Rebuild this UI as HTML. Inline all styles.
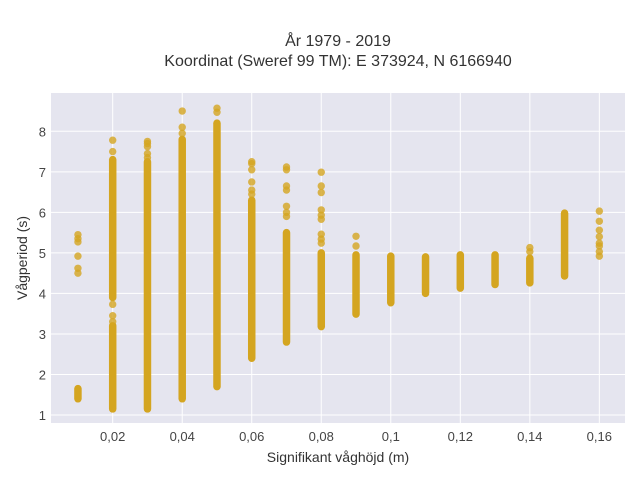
<!DOCTYPE html>
<html><head><meta charset="utf-8"><style>
html,body{margin:0;padding:0;background:#fff;}
svg{display:block;font-family:"Liberation Sans",sans-serif;}
</style></head><body>
<svg id="chart" width="640" height="480">
<rect x="51" y="93" width="574" height="330" fill="#e5e5ef"/>
<g id="grid"></g><g id="marks"></g><g id="ticks"></g>
<text x="338" y="46" text-anchor="middle" font-size="16" fill="#333">År 1979 - 2019</text>
<text x="338" y="66" text-anchor="middle" font-size="16" fill="#333">Koordinat (Sweref 99 TM): E 373924, N 6166940</text>
<text x="338" y="462" text-anchor="middle" font-size="14" fill="#333">Signifikant våghöjd (m)</text>
<text transform="translate(27,258) rotate(-90)" text-anchor="middle" font-size="14" fill="#333">Vågperiod (s)</text>
</svg>
<script>
const xCats = [0.01,0.02,0.02,0.03,0.04,0.05,0.06,0.07,0.08,0.09,0.1,0.11,0.12,0.13,0.14,0.15];
const segMin = [1.4,1.15,3.9,1.15,1.4,1.7,2.4,2.8,3.18,3.49,3.77,4.0,4.13,4.22,4.26,4.43];
const segMax = [1.65,3.2,7.3,7.25,7.8,8.2,6.3,5.5,5.0,4.95,4.92,4.9,4.95,4.95,4.87,5.98];
const outX = [0.01,0.01,0.01,0.01,0.01,0.01,0.02,0.02,0.02,0.02,0.02,0.03,0.03,0.03,0.03,0.03,0.04,0.04,0.04,0.05,0.05,0.06,0.06,0.06,0.06,0.06,0.06,0.07,0.07,0.07,0.07,0.07,0.07,0.07,0.08,0.08,0.08,0.08,0.08,0.08,0.08,0.08,0.08,0.09,0.09,0.14,0.14,0.16,0.16,0.16,0.16,0.16,0.16,0.16,0.16];
const outY = [4.5,4.62,4.92,5.27,5.35,5.45,3.3,3.45,3.73,7.5,7.78,7.35,7.45,7.62,7.7,7.75,7.95,8.1,8.5,8.47,8.57,6.45,6.55,6.75,7.05,7.2,7.25,5.9,6.0,6.15,6.55,6.65,7.05,7.12,6.99,6.65,6.49,6.06,5.93,5.83,5.46,5.34,5.24,5.17,5.41,5.03,5.13,6.03,5.78,5.56,5.4,5.24,5.17,5.03,4.92];
const xTicks = [0.02,0.04,0.06,0.08,0.1,0.12,0.14,0.16];
const xTickLabels = ["0,02","0,04","0,06","0,08","0,1","0,12","0,14","0,16"];
const yTicks = [1,2,3,4,5,6,7,8];
const yTickLabels = ["1","2","3","4","5","6","7","8"];

const NS="http://www.w3.org/2000/svg";
const X = v => 112.7 + (v-0.02)/0.01*34.76;
const Y = v => 415 - (v-1)*40.53;
function mk(tag, attrs, parent){const e=document.createElementNS(NS,tag);for(const k in attrs)e.setAttribute(k,attrs[k]);document.getElementById(parent).appendChild(e);return e;}
xTicks.forEach((t,i)=>{
  const l=mk('line',{x1:X(t),x2:X(t),y1:93,y2:423,stroke:'#fff','stroke-width':1},'grid');
  
  
  const tx=mk('text',{x:X(t),y:441,'text-anchor':'middle','font-size':13,fill:'#444'},'ticks');
  tx.textContent=xTickLabels[i];
  
  
});
yTicks.forEach((t,i)=>{
  const l=mk('line',{x1:51,x2:625,y1:Y(t),y2:Y(t),stroke:'#fff','stroke-width':1},'grid');
  
  
  const tx=mk('text',{x:46,y:Y(t)+5,'text-anchor':'end','font-size':13,fill:'#444'},'ticks');
  tx.textContent=yTickLabels[i];
  
  
});
xCats.forEach((c,i)=>{
  const l=mk('line',{x1:X(c),x2:X(c),y1:Y(segMin[i]),y2:Y(segMax[i]),stroke:'#d4a520','stroke-width':7.5,'stroke-linecap':'round'},'marks');
  
  
});
outX.forEach((c,i)=>{
  const p=mk('circle',{cx:X(c),cy:Y(outY[i]),r:3.7,fill:'#d4a520','fill-opacity':0.8},'marks');
  
  
});
</script>
</body></html>
